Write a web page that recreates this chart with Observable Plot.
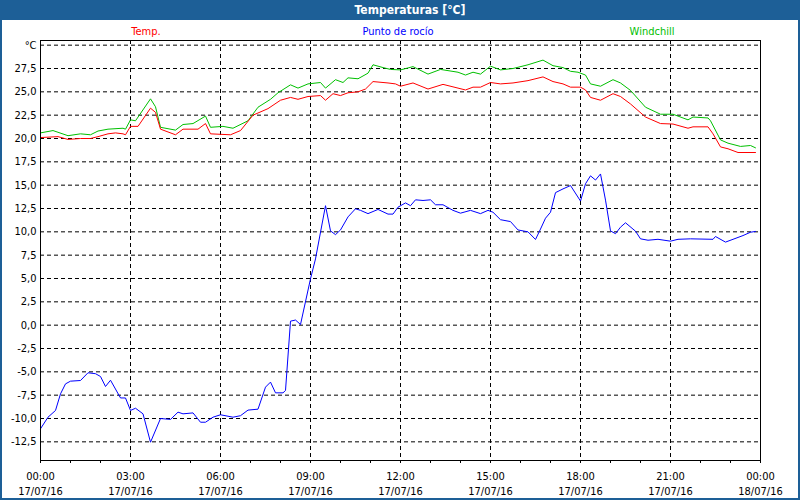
<!DOCTYPE html>
<html>
<head>
<meta charset="utf-8">
<script src="https://cdn.jsdelivr.net/npm/d3@7"></script>
<script src="https://cdn.jsdelivr.net/npm/@observablehq/plot@0.6"></script>
<style>
  html, body { margin: 0; padding: 0; background: #ffffff; }
  #wrap { position: relative; width: 800px; height: 500px; background: #ffffff; overflow: hidden;
          font-family: "DejaVu Sans Condensed", "DejaVu Sans", sans-serif; }
  #titlebar { position: absolute; left: 0; top: 0; width: 800px; height: 20px; background: #1d5f97; }
  #titlebar span { position: absolute; left: 410px; top: 3px; transform: translateX(-50%);
          color: #ffffff; font-weight: bold; font-size: 12px; white-space: nowrap; }
  #legend { position: absolute; left: 0; top: 20px; width: 800px; height: 19px; }
  #legend span { position: absolute; top: 5px; transform: translateX(-50%); font-size: 11px; white-space: nowrap; }
  #chart { position: absolute; left: 0; top: 39px; }
  .bl { position: absolute; background: #1d5f97; }
</style>
</head>
<body>
<div id="wrap">
  <div id="titlebar"><span id="title"></span></div>
  <div id="legend"></div>
  <div id="chart"></div>
  <div class="bl" style="left:0;top:0;width:2px;height:500px"></div>
  <div class="bl" style="right:0;top:0;width:2px;height:500px"></div>
  <div class="bl" style="left:0;bottom:0;width:800px;height:2px"></div>
</div>
<script>
const titleText = "Temperaturas [°C]";
const seriesNames = ["Temp.", "Punto de rocío", "Windchill"];
const seriesColors = ["#ff0000", "#0000ff", "#00c000"];
const legendCenters = [146, 398, 652];

const tempTimes = ["00:00","00:35","00:55","01:20","01:40","01:55","02:15","02:30","02:45","02:50","03:00","03:15","03:40","03:50","04:00","04:15","04:30","04:45","05:15","05:30","05:40","06:20","06:40","07:05","07:35","08:00","08:20","08:35","08:55","09:20","09:30","09:45","10:00","10:15","10:35","10:50","11:05","11:35","11:50","12:00","12:25","12:55","13:25","13:55","14:10","14:25","14:40","15:00","15:20","15:45","16:15","16:45","17:05","17:25","17:40","18:00","18:10","18:20","18:40","19:05","19:20","19:40","20:10","20:40","21:05","21:15","21:35","21:45","22:15","22:25","22:40","22:55","23:15","23:50"];
const tempValues = [20.1,20.2,19.9,20.0,20.0,20.2,20.5,20.6,20.5,20.4,21.3,21.3,23.25,22.8,21.0,20.7,20.4,21.0,21.0,21.6,20.5,20.4,20.85,22.5,23.2,24.1,24.4,24.2,24.5,24.6,24.1,24.8,24.6,24.9,25.0,25.3,26.1,25.95,25.85,25.6,25.95,25.3,25.8,25.4,25.2,25.5,25.5,26.0,25.85,25.95,26.2,26.6,26.1,25.85,25.5,25.5,25.2,24.4,24.1,24.8,24.5,23.7,22.3,21.6,21.55,21.4,21.1,21.25,21.25,20.5,19.1,18.9,18.5,18.5];

const dewTimes = ["00:00","00:15","00:30","00:40","00:50","01:00","01:20","01:35","01:50","02:00","02:10","02:20","02:40","02:50","03:00","03:10","03:25","03:40","04:00","04:20","04:35","04:45","05:05","05:20","05:30","05:45","06:00","06:25","06:40","06:55","07:15","07:30","07:40","07:50","08:05","08:10","08:20","08:30","08:40","09:00","09:10","09:30","09:40","09:50","10:00","10:15","10:30","10:40","10:55","11:15","11:35","11:45","11:55","12:10","12:20","12:30","12:45","13:00","13:10","13:25","13:45","14:00","14:20","14:40","14:55","15:05","15:20","15:40","15:55","16:15","16:30","16:40","16:50","17:00","17:10","17:25","17:40","18:00","18:10","18:20","18:30","18:40","18:50","19:00","19:10","19:20","19:30","19:50","20:00","20:15","20:35","21:00","21:15","21:40","22:25","22:30","22:50","23:05","23:25","23:40","23:50"];
const dewValues = [-11.1,-9.86,-9.14,-7.36,-6.29,-6.0,-5.93,-5.1,-5.2,-5.5,-6.57,-5.9,-7.8,-7.8,-9.14,-8.9,-9.5,-12.54,-10.0,-10.1,-9.32,-9.5,-9.4,-10.4,-10.4,-9.86,-9.6,-9.86,-9.7,-9.1,-9.0,-6.64,-6.1,-7.25,-7.25,-7.0,0.43,0.55,0.07,4.97,7.1,12.8,10.1,9.7,10.2,11.6,12.47,12.3,11.95,12.4,11.9,11.9,12.64,13.1,12.8,13.43,13.36,13.43,12.9,12.9,12.3,12.0,12.3,11.95,12.3,12.1,11.3,11.1,10.2,10.0,9.18,10.3,11.46,12.1,14.2,14.6,14.96,13.3,15.15,16.0,15.55,16.2,13.4,10.1,9.8,10.5,10.97,10.07,9.25,9.1,9.2,9.0,9.2,9.25,9.2,9.5,8.9,9.2,9.6,9.96,10.04];

const windTimes = ["00:00","00:25","00:55","01:20","01:40","01:55","02:15","02:45","02:50","03:00","03:10","03:40","03:50","04:00","04:30","04:45","05:05","05:30","05:40","06:05","06:25","06:55","07:15","07:40","07:55","08:20","08:35","08:55","09:20","09:30","09:50","10:05","10:15","10:35","10:55","11:05","11:25","11:40","12:00","12:25","12:55","13:20","13:55","14:10","14:25","14:40","15:00","15:20","15:45","16:15","16:45","17:05","17:25","17:40","17:55","18:10","18:20","18:40","19:05","19:20","19:40","20:10","20:40","21:05","21:15","21:35","21:45","22:15","22:20","22:40","22:55","23:20","23:40","23:50"];
const windValues = [20.6,20.85,20.3,20.5,20.4,20.8,21.0,21.1,21.0,22.0,21.9,24.25,23.4,21.2,20.9,21.5,21.6,22.4,21.2,21.3,21.1,21.9,23.35,24.2,24.9,25.75,25.4,25.85,26.0,25.4,26.3,26.0,26.5,26.4,27.0,27.9,27.6,27.4,27.35,27.7,26.9,27.4,27.1,26.8,27.1,26.9,27.75,27.35,27.5,27.9,28.4,27.8,27.6,27.2,27.1,26.8,25.85,25.6,26.3,25.95,25.15,23.35,22.6,22.6,22.4,22.0,22.3,22.2,21.9,19.85,19.5,19.15,19.25,19.0];

const yTicks = [-12.5,-10,-7.5,-5,-2.5,0,2.5,5,7.5,10,12.5,15,17.5,20,22.5,25,27.5,30];
const xLabelHours = [0,3,6,9,12,15,18,21,24];
const xTimeLabels = ["00:00","03:00","06:00","09:00","12:00","15:00","18:00","21:00","00:00"];
const xDateLabels = ["17/07/16","17/07/16","17/07/16","17/07/16","17/07/16","17/07/16","17/07/16","17/07/16","18/07/16"];
const xMinorHours = d3.range(0, 25);
const topTickLabel = "°C";

const toH = t => { const [h, m] = t.split(":").map(Number); return h + m / 60; };
const mk = (times, vals) => times.map((t, i) => ({h: toH(t), v: vals[i]}));
const temp = mk(tempTimes, tempValues);
const dew = mk(dewTimes, dewValues);
const wind = mk(windTimes, windValues);

document.getElementById("title").textContent = titleText;
const leg = document.getElementById("legend");
seriesNames.forEach((n, i) => {
  const s = document.createElement("span");
  s.textContent = n; s.style.color = seriesColors[i]; s.style.left = legendCenters[i] + "px";
  leg.appendChild(s);
});

const fmtY = d => d === 30 ? topTickLabel : d.toFixed(1).replace(".", ",");
const fmtX = d => { const i = xLabelHours.indexOf(d); return xTimeLabels[i] + "\n" + xDateLabels[i]; };

const chart = Plot.plot({
  width: 800, height: 461,
  marginLeft: 40, marginRight: 40, marginTop: 1, marginBottom: 40,
  x: {domain: [0, 24]},
  y: {domain: [-14.5, 30.5]},
  style: {fontFamily: '"DejaVu Sans Condensed", "DejaVu Sans", sans-serif', fontSize: "11px", color: "#000", background: "transparent"},
  marks: [
    Plot.gridY(yTicks, {stroke: "#000", strokeOpacity: 1, strokeDasharray: "4,3"}),
    Plot.gridX(xLabelHours.slice(1, -1), {stroke: "#000", strokeOpacity: 1, strokeDasharray: "4,3"}),
    Plot.line(wind, {x: "h", y: "v", stroke: seriesColors[2], strokeWidth: 1}),
    Plot.line(temp, {x: "h", y: "v", stroke: seriesColors[0], strokeWidth: 1}),
    Plot.line(dew, {x: "h", y: "v", stroke: seriesColors[1], strokeWidth: 1}),
    Plot.frame({stroke: "#000", strokeWidth: 1}),
    Plot.axisY(yTicks, {tickSize: 0, tickPadding: 4, tickFormat: fmtY, label: null}),
    Plot.axisX(xMinorHours, {tickSize: 3, tickFormat: () => "", label: null, strokeOpacity: 1}),
    Plot.axisX(xLabelHours, {tickSize: 0, tickPadding: 9, tickFormat: fmtX, label: null, lineHeight: 1.35})
  ]
});
document.getElementById("chart").appendChild(chart);
</script>
</body>
</html>
